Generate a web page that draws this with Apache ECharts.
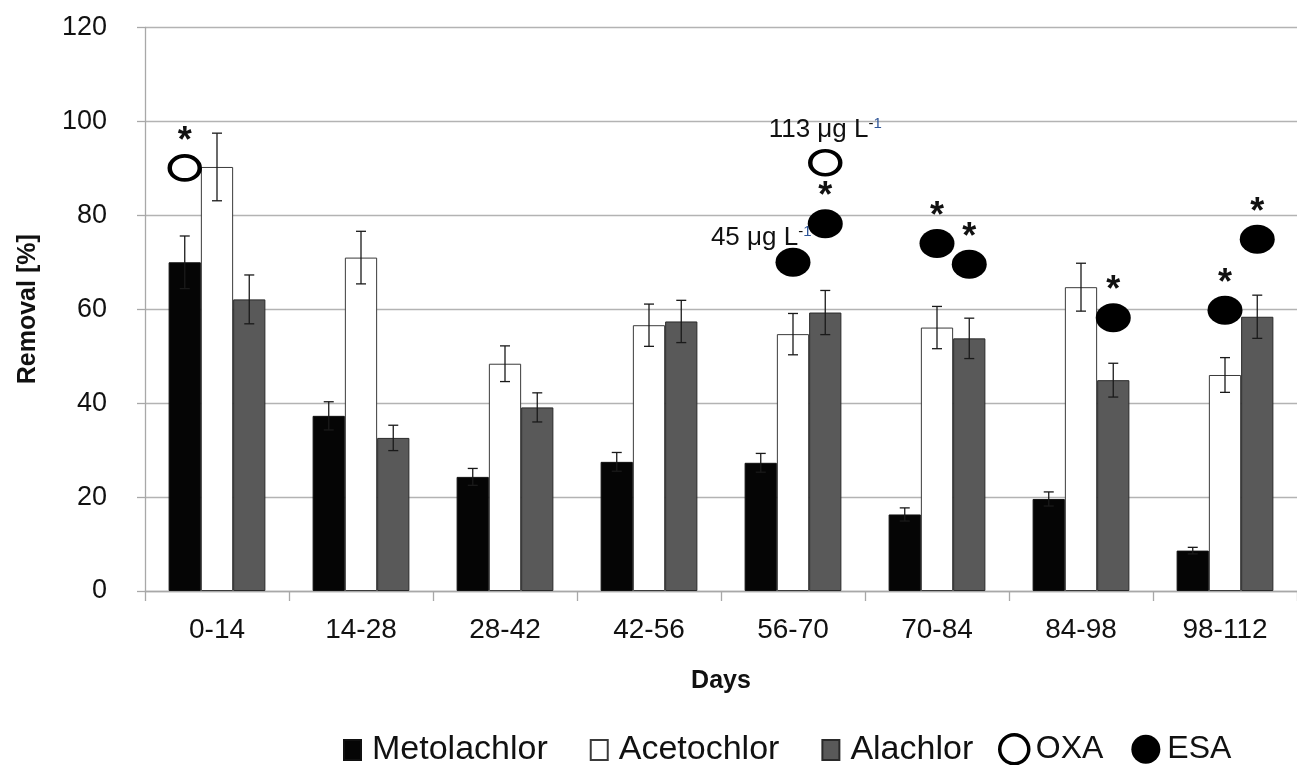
<!DOCTYPE html>
<html><head><meta charset="utf-8">
<script src="https://cdn.jsdelivr.net/npm/echarts@6/dist/echarts.min.js"></script>
<style>html,body{margin:0;padding:0;background:#fff}#c{width:1297px;height:765px}</style>
</head><body><div id="c"></div>
<script>
// ---- data ----
const categories = ['0-14','14-28','28-42','42-56','56-70','70-84','84-98','98-112'];
const compounds = ['Metolachlor','Acetochlor','Alachlor'];
const metolachlor    = [70.0, 37.3, 24.3, 27.5, 27.3, 16.3, 19.6, 8.6];
const metolachlorErr = [5.6, 3.0, 1.8, 2.0, 2.0, 1.4, 1.5, 0.7];
const acetochlor     = [90.3, 71.0, 48.4, 56.6, 54.7, 56.1, 64.7, 46.0];
const acetochlorErr  = [7.2, 5.6, 3.8, 4.5, 4.4, 4.5, 5.1, 3.7];
const alachlor       = [62.1, 32.6, 39.1, 57.4, 59.3, 53.8, 44.9, 58.4];
const alachlorErr    = [5.2, 2.7, 3.1, 4.5, 4.7, 4.3, 3.6, 4.6];
// metabolite points: [category, compound, removal %, note]
const oxaPoints = [
  ['0-14', 'Metolachlor', 90.1, '*'],
  ['56-70', 'Alachlor', 91.2, '113 μg L-1']
];
const esaPoints = [
  ['56-70', 'Acetochlor', 70.0, '45 μg L-1'],
  ['56-70', 'Alachlor', 78.2, '*'],
  ['70-84', 'Acetochlor', 74.0, '*'],
  ['70-84', 'Alachlor', 69.6, '*'],
  ['84-98', 'Alachlor', 58.2, '*'],
  ['98-112', 'Acetochlor', 59.8, '*'],
  ['98-112', 'Alachlor', 74.9, '*']
];
const yMin = 0, yMax = 120, yStep = 20;

// ---- styling ----
const FONT = '"Liberation Sans", Arial, sans-serif';
const BAR_FRAC = 0.224;
const barColors = ['#050505', '#ffffff', '#595959'];
const barBorders = ['#111111', '#3a3a3a', '#2a2a2a'];
const values = [metolachlor, acetochlor, alachlor];
const errs = [metolachlorErr, acetochlorErr, alachlorErr];

function errRender(k) {
  return function (params, api) {
    const x = api.value(0), v = api.value(1), e = api.value(2);
    const band = api.size([1, 0])[0];
    const off = (k - 1) * BAR_FRAC * band;
    const top = api.coord([x, v + e]);
    const bot = api.coord([x, v - e]);
    const cx = top[0] + off, hw = 5;
    const st = { stroke: '#1a1a1a', lineWidth: 1.3 };
    return { type: 'group', children: [
      { type: 'line', shape: { x1: cx, y1: top[1], x2: cx, y2: bot[1] }, style: st },
      { type: 'line', shape: { x1: cx - hw, y1: top[1], x2: cx + hw, y2: top[1] }, style: st },
      { type: 'line', shape: { x1: cx - hw, y1: bot[1], x2: cx + hw, y2: bot[1] }, style: st }
    ]};
  };
}

const noteRich = {
  n: { fontSize: 26, fontFamily: FONT, color: '#111' },
  m: { fontSize: 15, fontFamily: FONT, color: '#111', verticalAlign: 'top', padding: [0, 0, 12, 0] },
  o: { fontSize: 15, fontFamily: FONT, color: '#2f5597', verticalAlign: 'top', padding: [0, 0, 12, 0] }
};
function noteLabel(note, isLeft) {
  if (note === '*') {
    return { show: true, position: 'top', distance: -6, formatter: '*', fontSize: 36, fontWeight: 'bold',
      lineHeight: 36, color: '#111', fontFamily: FONT };
  }
  const base = note.replace(/-1$/, '');
  const txt = '{n|' + base + '}{m|-}{o|1}';
  if (isLeft) {
    return { show: true, position: [36, -10], align: 'right', verticalAlign: 'middle', formatter: txt, rich: noteRich };
  }
  return { show: true, position: 'top', distance: 6, formatter: txt, rich: noteRich };
}
function pointData(list) {
  return list.map(p => {
    const ci = categories.indexOf(p[0]);
    const k = compounds.indexOf(p[1]);
    return { value: [ci + 0.5 + (k - 1) * BAR_FRAC, p[2]], label: noteLabel(p[3], p[3].indexOf('45') === 0) };
  });
}

const series = [];
compounds.forEach((name, k) => {
  series.push({
    name: name, type: 'bar', barWidth: (BAR_FRAC * 100) + '%', barGap: '0%',
    itemStyle: { color: barColors[k], borderColor: barBorders[k], borderWidth: 1 },
    data: values[k], z: 2
  });
});
compounds.forEach((name, k) => {
  series.push({
    type: 'custom', renderItem: errRender(k), z: 3, silent: true,
    data: values[k].map((v, i) => [i, v, errs[k][i]])
  });
});
series.push({
  name: 'OXA', type: 'scatter', xAxisIndex: 1, symbol: 'circle', symbolSize: [30, 24],
  itemStyle: { color: '#ffffff', borderColor: '#000', borderWidth: 4, opacity: 1 },
  data: pointData(oxaPoints), z: 5
});
series.push({
  name: 'ESA', type: 'scatter', xAxisIndex: 1, symbol: 'circle', symbolSize: [35, 29],
  itemStyle: { color: '#000', opacity: 1 },
  data: pointData(esaPoints), z: 5
});

const chart = echarts.init(document.getElementById('c'), null, { renderer: 'canvas' });
chart.setOption({
  animation: false,
  backgroundColor: '#fff',
  grid: { left: 145, right: 0, top: 27.5, bottom: 174, containLabel: false },
  xAxis: [{
    type: 'category', data: categories,
    name: 'Days', nameLocation: 'middle', nameGap: 78,
    nameTextStyle: { fontSize: 25, fontWeight: 'bold', color: '#111', fontFamily: FONT },
    axisLine: { lineStyle: { color: '#a8a8a8', width: 1.3 } },
    axisTick: { show: true, length: 10, lineStyle: { color: '#a8a8a8', width: 1.3 } },
    axisLabel: { fontSize: 28, color: '#111', margin: 25, fontFamily: FONT }
  }, {
    type: 'value', min: 0, max: categories.length, show: false
  }],
  yAxis: {
    type: 'value', min: yMin, max: yMax, interval: yStep,
    name: 'Removal [%]', nameLocation: 'middle', nameGap: 104, nameRotate: 90,
    nameTextStyle: { fontSize: 25, fontWeight: 'bold', color: '#111', fontFamily: FONT },
    axisLine: { show: true, lineStyle: { color: '#a8a8a8', width: 1.3 } },
    axisTick: { show: true, length: 8, lineStyle: { color: '#a8a8a8', width: 1.3 } },
    axisLabel: { fontSize: 27, color: '#111', margin: 38, fontFamily: FONT },
    splitLine: { lineStyle: { color: '#b3b3b3', width: 1.3 } }
  },
  legend: [{
    data: compounds, left: 338, top: 728, icon: 'rect', itemWidth: 17, itemHeight: 20, itemGap: 42,
    textStyle: { fontSize: 34, color: '#111', fontFamily: FONT, padding: [0, 0, 0, 6] }
  }, {
    data: [
      { name: 'OXA', itemStyle: { color: '#fff', borderColor: '#000', borderWidth: 3.5 } },
      { name: 'ESA', itemStyle: { color: '#000' } }
    ],
    left: 993, top: 728, icon: 'circle', itemWidth: 29, itemHeight: 29, itemGap: 28,
    textStyle: { fontSize: 32, color: '#111', fontFamily: FONT, padding: [0, 0, 0, 2] }
  }],
  series: series
});
</script></body></html>
